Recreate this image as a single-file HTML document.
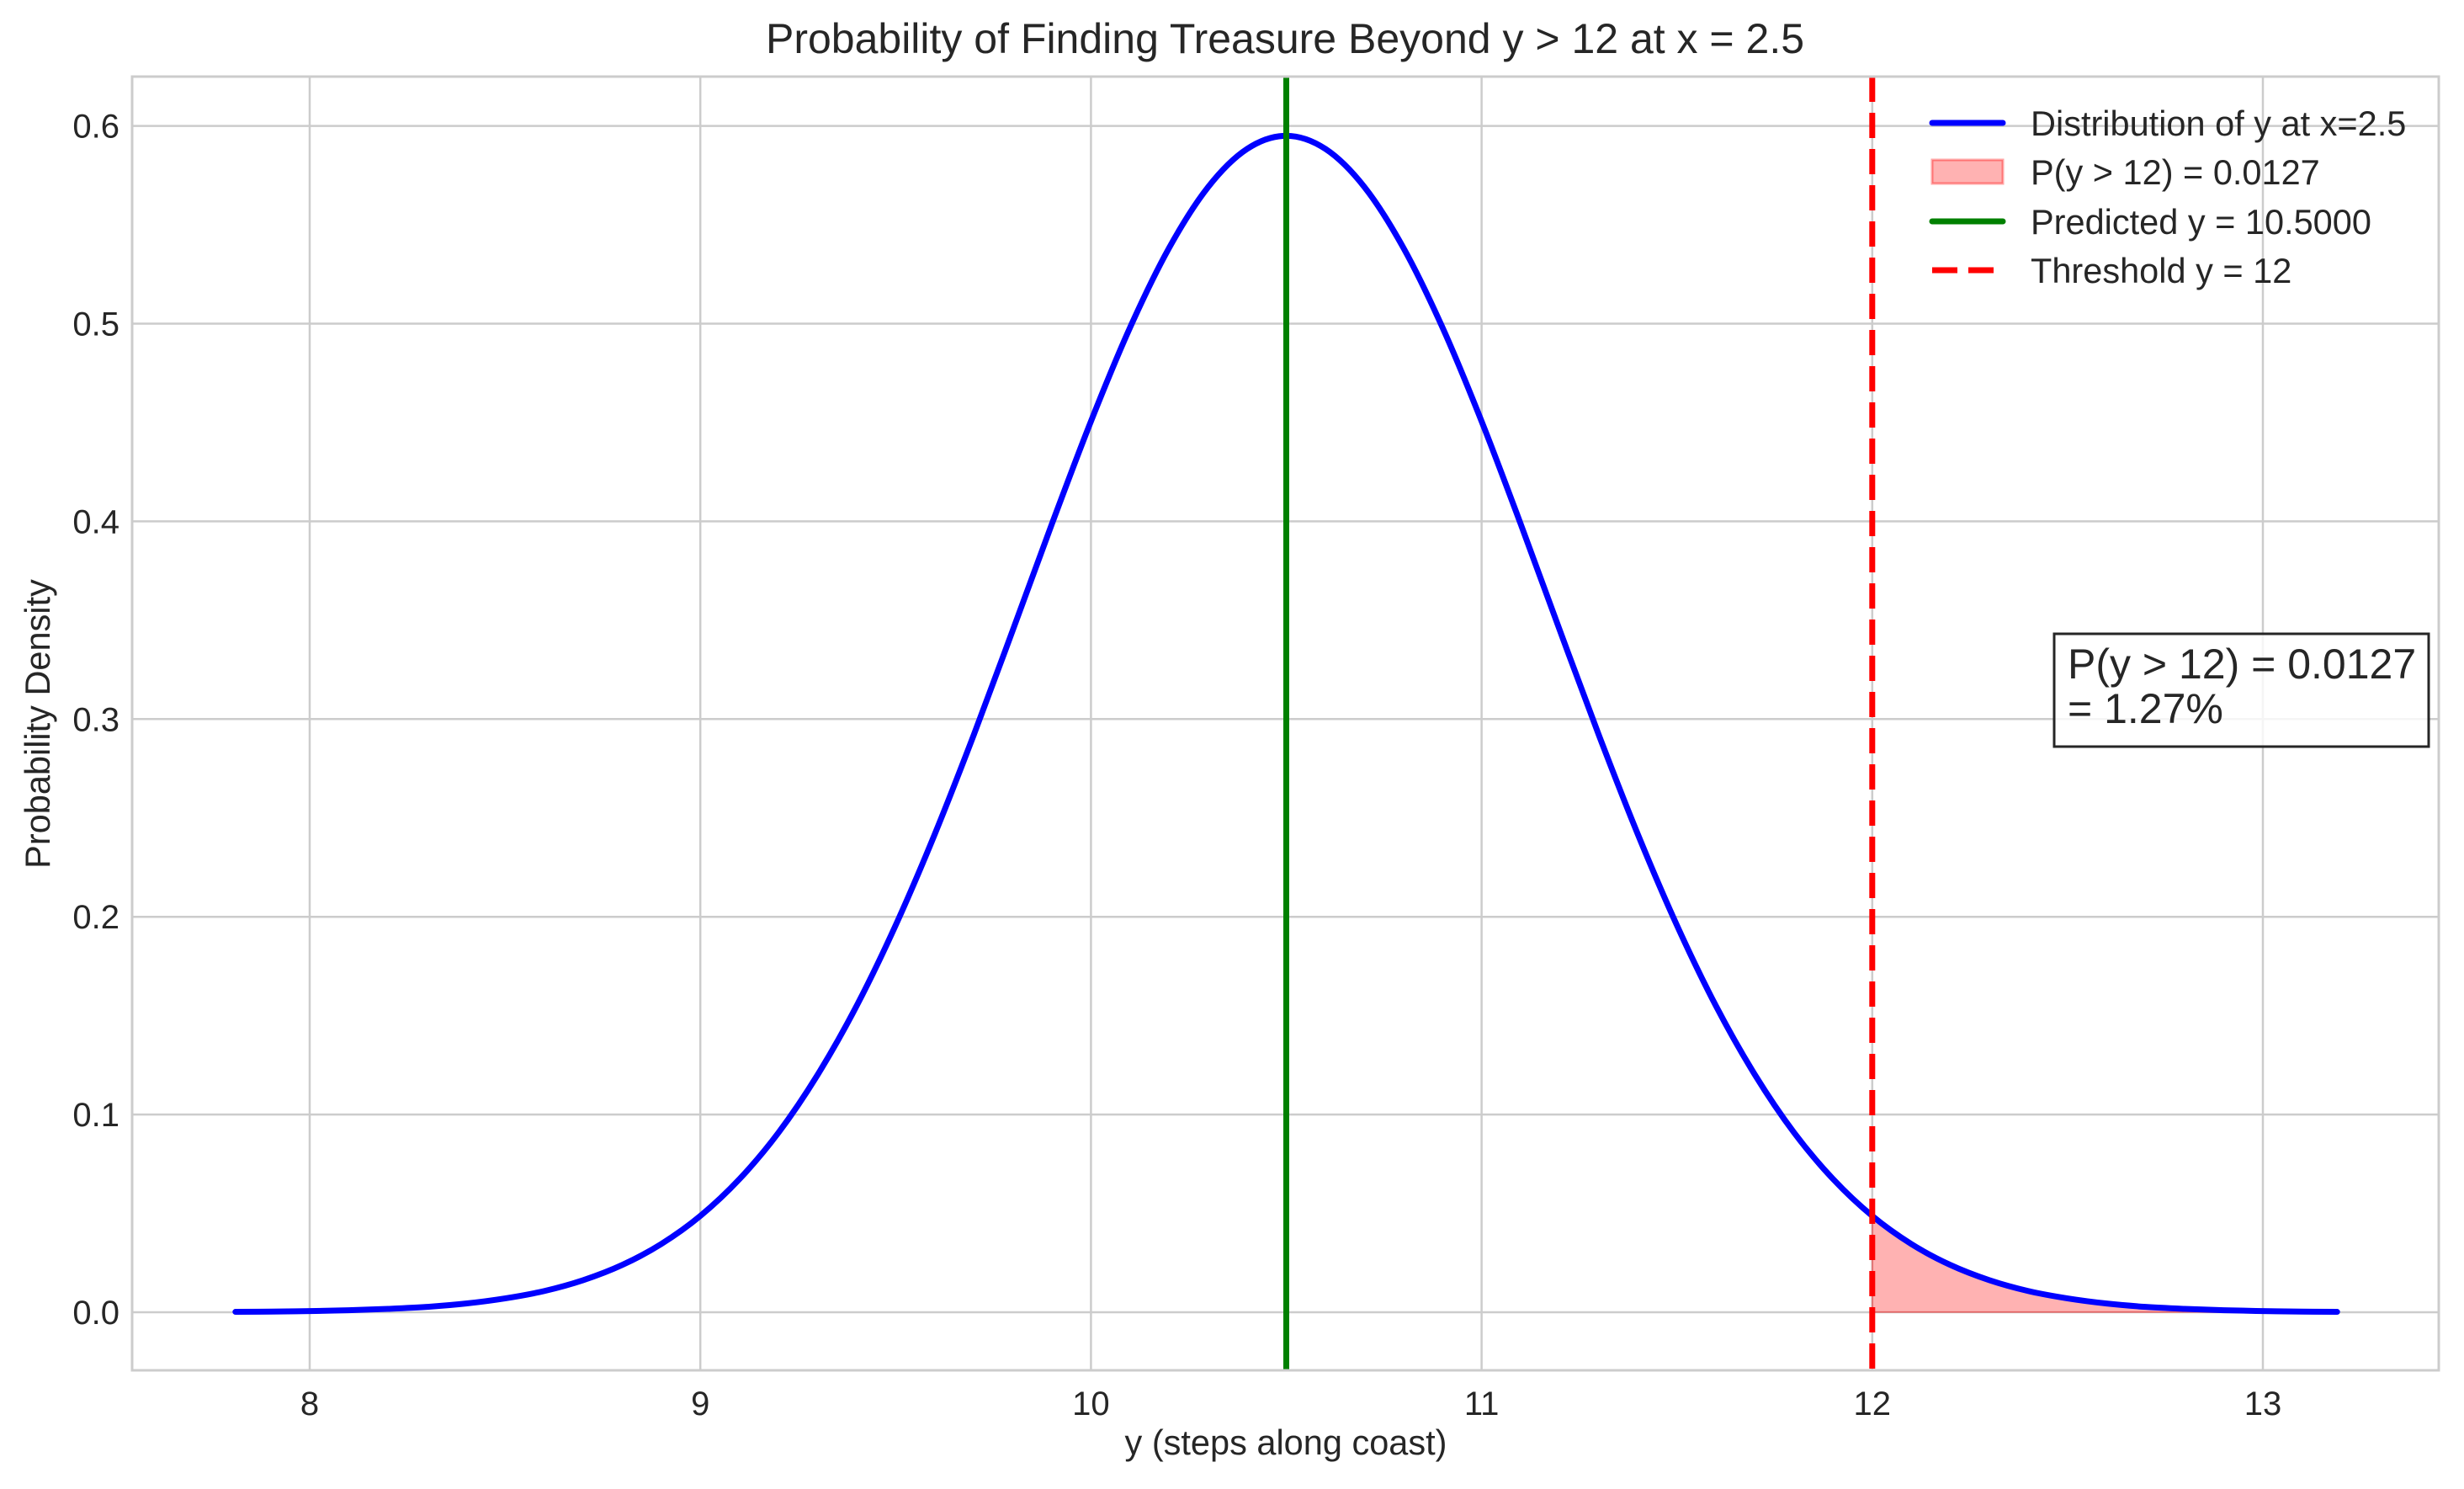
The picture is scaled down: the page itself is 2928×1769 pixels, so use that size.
<!DOCTYPE html>
<html><head><meta charset="utf-8"><style>
html,body{margin:0;padding:0;background:#fff;}
svg{display:block;font-family:"Liberation Sans",Arial,sans-serif;}
</style></head><body>
<svg id="chart" width="2928" height="1769" viewBox="0 0 2928 1769">
<rect x="0" y="0" width="2928" height="1769" fill="#fff"/>
<g id="grid"></g>
<g id="ticks"></g>
<path id="tail-fill" fill="#ff0000" fill-opacity="0.3" stroke="#ff0000" stroke-opacity="0.3" stroke-width="2"/>
<path id="curve" fill="none" stroke="#0000ff" stroke-width="7" stroke-linecap="round" stroke-linejoin="round"/>
<line id="pred-line" stroke="#008000" stroke-width="7"/>
<line id="thresh-line" stroke="#ff0000" stroke-width="7" stroke-dasharray="30,13"/>
<rect x="157" y="91" width="2741" height="1537" fill="none" stroke="#cccccc" stroke-width="3"/>
<text x="1527" y="63" font-size="50" text-anchor="middle" fill="#262626">Probability of Finding Treasure Beyond y &gt; 12 at x = 2.5</text>
<text x="1528" y="1728" font-size="41.5" text-anchor="middle" fill="#262626">y (steps along coast)</text>
<text x="0" y="0" font-size="41.5" text-anchor="middle" fill="#262626" transform="translate(59,860) rotate(-90)">Probability Density</text>
<g>
<line x1="2296" y1="146" x2="2380" y2="146" stroke="#0000ff" stroke-width="7" stroke-linecap="round"/>
<text x="2413" y="161" font-size="41.5" fill="#262626">Distribution of y at x=2.5</text>
<rect x="2296" y="190" width="84" height="28" fill="#ff0000" fill-opacity="0.3" stroke="#ff0000" stroke-opacity="0.35" stroke-width="3"/>
<text x="2413" y="219" font-size="41.5" fill="#262626">P(y &gt; 12) = 0.0127</text>
<line x1="2296" y1="263" x2="2380" y2="263" stroke="#008000" stroke-width="7" stroke-linecap="round"/>
<text x="2413" y="278" font-size="41.5" fill="#262626">Predicted y = 10.5000</text>
<line x1="2296" y1="321" x2="2380" y2="321" stroke="#ff0000" stroke-width="7" stroke-dasharray="30,13"/>
<text x="2413" y="336" font-size="41.5" fill="#262626">Threshold y = 12</text>
</g>
<g>
<rect x="2441" y="753" width="445" height="134" fill="#ffffff" fill-opacity="0.8" stroke="#262626" stroke-width="3"/>
<text x="2457" y="806" font-size="50" fill="#262626">P(y &gt; 12) = 0.0127</text>
<text x="2457" y="859" font-size="50" fill="#262626">= 1.27%</text>
</g>
</svg>
<script>
const xTicks = [8, 9, 10, 11, 12, 13];
const yTicks = [0.0, 0.1, 0.2, 0.3, 0.4, 0.5, 0.6];
const yTickLabels = ["0.0", "0.1", "0.2", "0.3", "0.4", "0.5", "0.6"];
const curveX = [7.81,7.9,8.0,8.1,8.2,8.3,8.4,8.5,8.6,8.7,8.8,8.9,9.0,9.1,9.2,9.3,9.4,9.5,9.6,9.7,9.8,9.9,10.0,10.1,10.2,10.3,10.4,10.5,10.6,10.7,10.8,10.9,11.0,11.1,11.2,11.3,11.4,11.5,11.6,11.7,11.8,11.9,12.0,12.1,12.2,12.3,12.4,12.5,12.6,12.7,12.8,12.9,13.0,13.1,13.19];
const curveY = [0.0002,0.0003,0.0006,0.0010,0.0017,0.0027,0.0044,0.0070,0.0107,0.0162,0.0239,0.0345,0.0487,0.0673,0.0908,0.1200,0.1549,0.1957,0.2417,0.2920,0.3450,0.3987,0.4506,0.4980,0.5383,0.5691,0.5884,0.5950,0.5884,0.5691,0.5383,0.4980,0.4506,0.3987,0.3450,0.2920,0.2417,0.1957,0.1549,0.1200,0.0908,0.0673,0.0487,0.0345,0.0239,0.0162,0.0107,0.0070,0.0044,0.0027,0.0017,0.0010,0.0006,0.0003,0.0002];
const predicted = [10.5];
const threshold = [12];

const L=157,R=2898,T=91,B=1628;
function sx(v){return 368 + (v-8)*464.2;}
function sy(v){return 1559 - v*2349;}
const NS="http://www.w3.org/2000/svg";
const grid=document.getElementById('grid'), ticks=document.getElementById('ticks');
xTicks.forEach(t=>{
  const l=document.createElementNS(NS,'line');
  l.setAttribute('x1',sx(t));l.setAttribute('x2',sx(t));l.setAttribute('y1',T);l.setAttribute('y2',B);
  l.setAttribute('stroke','#cccccc');l.setAttribute('stroke-width','2.5');
  
  
  grid.appendChild(l);
  const tx=document.createElementNS(NS,'text');
  tx.setAttribute('x',sx(t));tx.setAttribute('y',1681);tx.setAttribute('font-size','40');
  tx.setAttribute('text-anchor','middle');tx.setAttribute('fill','#262626');
  tx.textContent=String(t);
  
  
  ticks.appendChild(tx);
});
yTicks.forEach((t,i)=>{
  const l=document.createElementNS(NS,'line');
  l.setAttribute('x1',L);l.setAttribute('x2',R);l.setAttribute('y1',sy(t));l.setAttribute('y2',sy(t));
  l.setAttribute('stroke','#cccccc');l.setAttribute('stroke-width','2.5');
  
  
  grid.appendChild(l);
  const tx=document.createElementNS(NS,'text');
  tx.setAttribute('x',142);tx.setAttribute('y',sy(t)+14);tx.setAttribute('font-size','40');
  tx.setAttribute('text-anchor','end');tx.setAttribute('fill','#262626');
  tx.textContent=yTickLabels[i];
  
  
  ticks.appendChild(tx);
});
function smoothPath(pts){
  let d='M'+pts[0][0]+','+pts[0][1];
  for(let i=0;i<pts.length-1;i++){
    const p0=pts[Math.max(0,i-1)],p1=pts[i],p2=pts[i+1],p3=pts[Math.min(pts.length-1,i+2)];
    const c1x=p1[0]+(p2[0]-p0[0])/6,c1y=p1[1]+(p2[1]-p0[1])/6;
    const c2x=p2[0]-(p3[0]-p1[0])/6,c2y=p2[1]-(p3[1]-p1[1])/6;
    d+=' C'+c1x+','+c1y+' '+c2x+','+c2y+' '+p2[0]+','+p2[1];
  }
  return d;
}
const pts=curveX.map((x,i)=>[sx(x),sy(curveY[i])]);
document.getElementById('curve').setAttribute('d',smoothPath(pts));
const tail=[];curveX.forEach((x,i)=>{if(x>=threshold[0]-1e-9)tail.push([sx(x),sy(curveY[i])]);});
let fd=smoothPath(tail)+' L'+tail[tail.length-1][0]+','+sy(0)+' L'+tail[0][0]+','+sy(0)+' Z';
document.getElementById('tail-fill').setAttribute('d',fd);
const pl=document.getElementById('pred-line');
pl.setAttribute('x1',sx(predicted[0]));pl.setAttribute('x2',sx(predicted[0]));pl.setAttribute('y1',T);pl.setAttribute('y2',B);
const tl=document.getElementById('thresh-line');
tl.setAttribute('x1',sx(threshold[0]));tl.setAttribute('x2',sx(threshold[0]));tl.setAttribute('y1',T);tl.setAttribute('y2',B);
</script>
</body></html>
